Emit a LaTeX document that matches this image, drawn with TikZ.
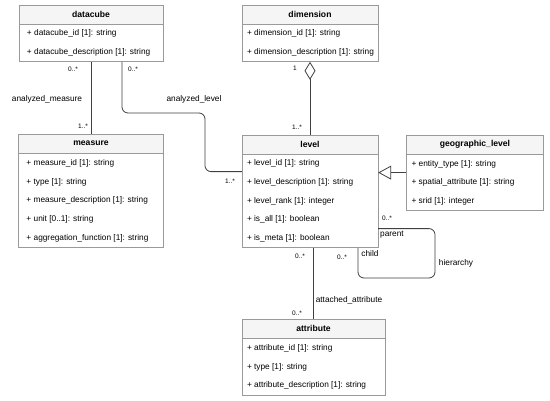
\documentclass[tikz,border=0pt]{standalone}
\usepackage{fontspec}
\setmainfont{Liberation Sans}
\usetikzlibrary{arrows.meta}

\definecolor{boxgray}{HTML}{9A9A9A}
\definecolor{headgray}{HTML}{F5F5F5}
\definecolor{linegray}{HTML}{404040}

\tikzset{
  umlhead/.style={draw=boxgray, fill=headgray, minimum width=#1, minimum height=19pt,
    inner sep=0pt, anchor=north, font=\fontsize{8.6}{10}\selectfont\bfseries},
  umlbody/.style={draw=boxgray, fill=white, minimum width=#1, inner sep=0pt, anchor=north},
  umlrows/.style={anchor=west, align=left, inner sep=0pt, font=\fontsize{8.3}{18.7}\selectfont},
  assoc/.style={draw=linegray, line width=0.8pt},
  mult/.style={font=\fontsize{6.5}{7}\selectfont, inner sep=0pt},
  role/.style={font=\fontsize{8.3}{10}\selectfont, inner sep=0pt},
}

\begin{document}
\begin{tikzpicture}[x=1pt, y=-1pt]

\fill[white] (0,0) rectangle (550,400);
\useasboundingbox (0,0) rectangle (550,400);

% Classes datacube and dimension
\node[umlhead=144pt] (datacube) at (91,5) {datacube};
\node[umlbody=144pt, minimum height=37pt] (datacube-b) at (datacube.south) {};
\node[umlrows] (datacube-r) at ([xshift=8pt]datacube-b.west)
  {+ datacube\_id [1]: string\\+ datacube\_description [1]: string};

\node[umlhead=136pt] (dimension) at (310,5) {dimension};
\node[umlbody=136pt, minimum height=37pt] (dimension-b) at (dimension.south) {};
\node[umlrows] (dimension-r) at ([xshift=5pt]dimension-b.west)
  {+ dimension\_id [1]: string\\+ dimension\_description [1]: string};

% Classes measure, level and geographic_level
\node[umlhead=145pt] (measure) at (91,134) {measure};
\node[umlbody=145pt, minimum height=94pt] (measure-b) at (measure.south) {};
\node[umlrows] (measure-r) at ([xshift=8pt]measure-b.west)
  {+ measure\_id [1]: string\\+ type [1]: string\\+ measure\_description [1]: string\\
   + unit [0..1]: string\\+ aggregation\_function [1]: string};

\node[umlhead=136pt] (level) at (310,135) {level};
\node[umlbody=136pt, minimum height=93pt] (level-b) at (level.south) {};
\node[umlrows] (level-r) at ([xshift=5pt]level-b.west)
  {+ level\_id [1]: string\\+ level\_description [1]: string\\+ level\_rank [1]: integer\\
   + is\_all [1]: boolean\\+ is\_meta [1]: boolean};

\node[umlhead=137pt] (geo) at (475,135) {geographic\_level};
\node[umlbody=137pt, minimum height=56pt] (geo-b) at (geo.south) {};
\node[umlrows] (geo-r) at ([xshift=5pt]geo-b.west)
  {+ entity\_type [1]: string\\+ spatial\_attribute [1]: string\\+ srid [1]: integer};

% Class attribute
\node[umlhead=143pt] (attribute) at (313.5,319) {attribute};
\node[umlbody=143pt, minimum height=57pt] (attribute-b) at (attribute.south) {};
\node[umlrows] (attribute-r) at ([xshift=5pt]attribute-b.west)
  {+ attribute\_id [1]: string\\+ type [1]: string\\+ attribute\_description [1]: string};

% Associations
\draw[assoc] (datacube-b.south) -- (measure.north);
\draw[assoc, rounded corners=6pt] ([xshift=31pt]datacube-b.south) |- (205,113)
  |- ([yshift=29.5pt]level-b.west);
\draw[assoc, {Diamond[open, length=18pt, width=11pt]}-] (dimension-b.south) -- (level.north);
\draw[assoc, -{Triangle[open, length=13pt, width=14pt]}] ([yshift=10pt]geo-b.west)
  -- ([yshift=10pt]geo-b.west -| level-b.east);
\draw[assoc, rounded corners=6pt] ([yshift=-27.5pt]level-b.east) -| (435,278)
  -| ([xshift=48pt]level-b.south);
\draw[assoc] (level-b.south -| attribute.north) -- (attribute.north);

% Multiplicities
\foreach \n/\x/\y/\t in {m1/73/69/0..*, m2/83/126/1..*, m3/133/69/0..*, m4/230/181/1..*,
  m5/295/68/1, m6/297/127/1..*, m7/387/218/0..*, m8/342/257/0..*, m9/300/256/0..*,
  m10/297/313/0..*} {
  \node[mult] (\n) at (\x,\y) {\t};
}

% Role and association names
\node[role] (r1) at (47,99) {analyzed\_measure};
\node[role] (r2) at (194,99) {analyzed\_level};
\node[role] (r3) at (392,235) {parent};
\node[role] (r4) at (370,254) {child};
\node[role] (r5) at (456,263) {hierarchy};
\node[role] (r6) at (349,300) {attached\_attribute};

\end{tikzpicture}
\end{document}
